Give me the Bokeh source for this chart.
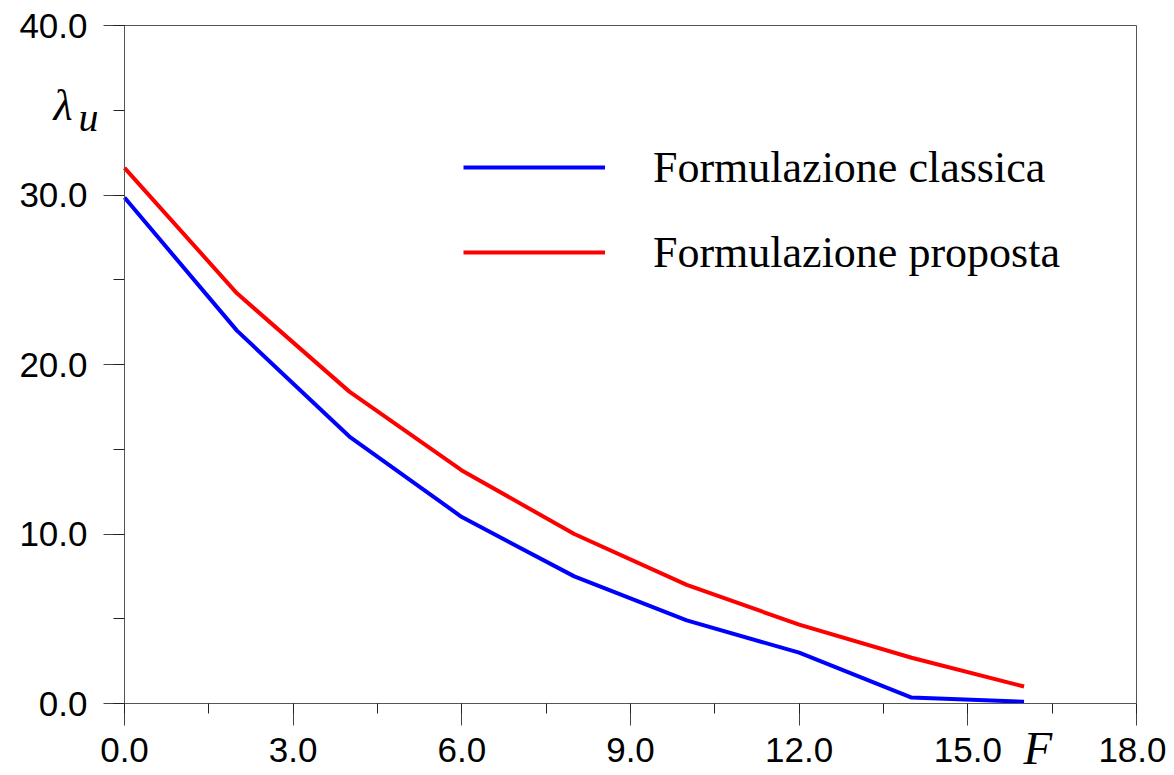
from bokeh.plotting import figure
from bokeh.models import (Range1d, SingleIntervalTicker, FixedTicker, PrintfTickFormatter,
                          Label, Legend, LegendItem, LinearAxis)
from bokeh.embed import file_html
from bokeh.resources import INLINE

# ---- data ----
F_vals = [0, 2, 4, 6, 8, 10, 12, 14, 16]
classica = [29.85, 22.0, 15.75, 11.0, 7.5, 4.9, 3.0, 0.35, 0.1]
proposta = [31.6, 24.2, 18.4, 13.75, 10.0, 7.0, 4.65, 2.7, 1.0]
series_names = ["Formulazione classica", "Formulazione proposta"]
x_lim = (0, 18)
y_lim = (0, 40)

# ---- layout (pixels) ----
W, H = 1166, 774
box_left, box_right, box_top, box_bottom = 124, 1136, 25, 703
sx = (box_right - box_left) / (x_lim[1] - x_lim[0])
sy = (box_bottom - box_top) / (y_lim[1] - y_lim[0])
x_range = Range1d(x_lim[0] - box_left / sx, x_lim[1] + (W - box_right) / sx)
y_range = Range1d(y_lim[0] - (H - box_bottom) / sy, y_lim[1] + box_top / sy)

p = figure(width=W, height=H, output_backend="svg", toolbar_location=None,
           x_range=x_range, y_range=y_range,
           x_axis_location=None, y_axis_location=None,
           min_border=0, min_border_left=0, min_border_right=0,
           min_border_top=0, min_border_bottom=0)
p.grid.visible = False
p.outline_line_color = None
p.background_fill_color = "white"
p.border_fill_color = "white"

r1 = p.line(F_vals, classica, line_color="#0000FF", line_width=4)
r2 = p.line(F_vals, proposta, line_color="#FF0000", line_width=4)

xa = LinearAxis(fixed_location=y_lim[0], bounds=x_lim,
                ticker=SingleIntervalTicker(interval=3, num_minor_ticks=2),
                formatter=PrintfTickFormatter(format="%.1f"))
ya = LinearAxis(fixed_location=x_lim[0], bounds=y_lim,
                ticker=SingleIntervalTicker(interval=10, num_minor_ticks=2),
                formatter=PrintfTickFormatter(format="%.1f"))
for ax in (xa, ya):
    ax.axis_line_color = "#555555"
    ax.major_tick_line_color = "#444444"
    ax.minor_tick_line_color = "#222222"
    ax.major_tick_in = 0
    ax.minor_tick_in = 0
    ax.major_label_text_font = "Liberation Sans"
    ax.major_label_text_font_size = "35px"
    ax.major_label_text_color = "black"
xa.major_tick_out = 22
xa.minor_tick_out = 10
xa.major_label_standoff = 12
ya.major_tick_out = 21
ya.minor_tick_out = 11
ya.major_label_standoff = 16
p.add_layout(xa, "below")
p.add_layout(ya, "left")

# box border (top and right)
top_ax = LinearAxis(fixed_location=y_lim[1], bounds=x_lim, ticker=FixedTicker(ticks=[]),
                    axis_line_color="#555555", major_label_text_color=None)
right_ax = LinearAxis(fixed_location=x_lim[1], bounds=y_lim, ticker=FixedTicker(ticks=[]),
                      axis_line_color="#555555", major_label_text_color=None)
p.add_layout(top_ax, "above")
p.add_layout(right_ax, "right")

# axis titles
p.add_layout(Label(x=x_lim[0] - 71 / sx, y=y_lim[0] + (box_bottom - 105) / sy, text="λ",
                   text_font="Liberation Serif", text_font_style="italic",
                   text_font_size="44px", text_color="black", text_baseline="alphabetic"))
p.add_layout(Label(x=x_lim[0] - 46 / sx, y=y_lim[0] + (box_bottom - 117) / sy, text="u",
                   text_font="Liberation Serif", text_font_style="italic",
                   text_font_size="40px", text_color="black", text_baseline="alphabetic"))
p.add_layout(Label(x=x_lim[0] + 899 / sx, y=y_lim[0] - 44 / sy, text="F",
                   text_font="Liberation Serif", text_font_style="italic",
                   text_font_size="47px", text_color="black", text_baseline="alphabetic"))

legend = Legend(items=[LegendItem(label=series_names[0], renderers=[r1]),
                       LegendItem(label=series_names[1], renderers=[r2])],
                location=(463, H - 278), orientation="vertical",
                glyph_width=142, glyph_height=52, label_height=52,
                label_standoff=48, spacing=33, padding=0, margin=0,
                border_line_color=None, background_fill_alpha=0,
                label_text_font="Liberation Serif", label_text_font_size="44px",
                label_text_color="black", label_text_baseline="middle")
p.add_layout(legend)

open("out.html", "w").write(file_html(p, INLINE))
